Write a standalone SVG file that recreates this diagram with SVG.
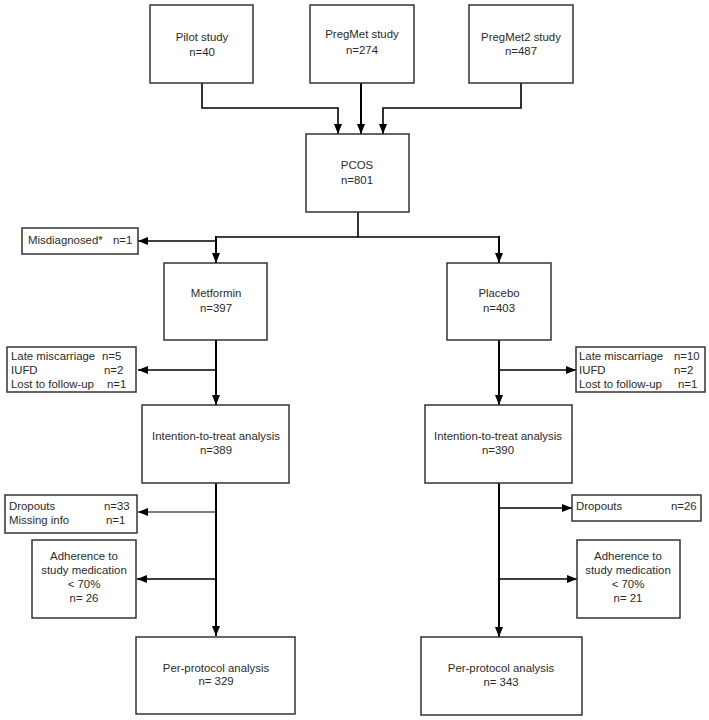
<svg xmlns="http://www.w3.org/2000/svg" width="709" height="720" viewBox="0 0 709 720">
<defs>
<marker id="ah" viewBox="0 0 10 8" refX="10" refY="4" markerWidth="10" markerHeight="8" markerUnits="userSpaceOnUse" orient="auto">
<path d="M0,0 L10,4 L0,8 z" fill="#000"/>
</marker>
<style>
.box{fill:#fff;stroke:#333;stroke-width:1.5}
text{font-family:"Liberation Sans",Arial,sans-serif;font-size:11.4px;fill:#2a2a2a}
.c{text-anchor:middle}
.ln{fill:none;stroke:#000;stroke-width:1.6}
.lt{fill:none;stroke:#000;stroke-width:2}
.ar{marker-end:url(#ah)}
</style>
</defs>
<rect width="709" height="720" fill="#fff"/>
<g id="connectors">
<path class="ln ar" d="M202,83 V108 H338 V134"/>
<path class="lt ar" d="M361,83 V134"/>
<path class="ln ar" d="M521,83 V108 H383 V134"/>
<path class="ln" d="M358,212 V237 M216,237 H499"/>
<path class="lt ar" d="M216,236 V263"/>
<path class="lt ar" d="M499,236 V263"/>
<path class="ln ar" d="M216,241 H138"/>
<path class="lt ar" d="M216,340 V405"/>
<path class="ln ar" d="M216,370 H138"/>
<path class="lt ar" d="M499,340 V405"/>
<path class="ln ar" d="M499,370 H576"/>
<path class="lt ar" d="M216,483 V636"/>
<path class="ln ar" style="stroke-width:1.1" d="M216,512 H138"/>
<path class="ln ar" d="M216,579 H137"/>
<path class="lt ar" d="M499,483 V637"/>
<path class="ln ar" d="M499,508 H572"/>
<path class="ln ar" d="M499,579 H577"/>
</g>
<g id="pilot"><rect class="box" x="150" y="5" width="103" height="78"/><text class="c" x="202" y="41">Pilot study</text><text class="c" x="202" y="56">n=40</text></g>
<g id="pregmet"><rect class="box" x="310" y="5" width="104" height="78"/><text class="c" x="362" y="38">PregMet study</text><text class="c" x="362" y="54">n=274</text></g>
<g id="pregmet2"><rect class="box" x="469" y="5" width="104" height="78"/><text class="c" x="521" y="41">PregMet2 study</text><text class="c" x="521" y="55">n=487</text></g>
<g id="pcos"><rect class="box" x="306" y="134" width="103" height="78"/><text class="c" x="357" y="169">PCOS</text><text class="c" x="357" y="184">n=801</text></g>
<g id="misdiagnosed"><rect class="box" x="22" y="228" width="116" height="26"/><text x="28" y="244">Misdiagnosed*</text><text x="113" y="244">n=1</text></g>
<g id="metformin"><rect class="box" x="164" y="263" width="103" height="77"/><text class="c" x="216" y="297">Metformin</text><text class="c" x="216" y="312">n=397</text></g>
<g id="placebo"><rect class="box" x="447" y="263" width="104" height="77"/><text class="c" x="499" y="297">Placebo</text><text class="c" x="499" y="312">n=403</text></g>
<g id="excl-met"><rect class="box" x="7" y="347" width="129" height="45"/><text x="11" y="360">Late miscarriage</text><text x="102" y="360">n=5</text><text x="11" y="374">IUFD</text><text x="104" y="374">n=2</text><text x="11" y="388">Lost to follow-up</text><text x="107" y="388">n=1</text></g>
<g id="excl-pla"><rect class="box" x="576" y="347" width="129" height="45"/><text x="579" y="360">Late miscarriage</text><text x="674" y="360">n=10</text><text x="579" y="374">IUFD</text><text x="674" y="374">n=2</text><text x="579" y="388">Lost to follow-up</text><text x="678" y="388">n=1</text></g>
<g id="itt-met"><rect class="box" x="142" y="405" width="147" height="78"/><text class="c" x="216" y="440">Intention-to-treat analysis</text><text class="c" x="216" y="454">n=389</text></g>
<g id="itt-pla"><rect class="box" x="425" y="405" width="147" height="78"/><text class="c" x="498" y="440">Intention-to-treat analysis</text><text class="c" x="498" y="454">n=390</text></g>
<g id="drop-met"><rect class="box" x="5" y="495" width="132" height="38"/><text x="9" y="510">Dropouts</text><text x="104" y="510">n=33</text><text x="9" y="524">Missing info</text><text x="106" y="524">n=1</text></g>
<g id="drop-pla"><rect class="box" x="572" y="495" width="129" height="26"/><text x="576" y="510">Dropouts</text><text x="671" y="510">n=26</text></g>
<g id="adh-met"><rect class="box" x="32" y="540" width="104" height="78"/><text class="c" x="84" y="560">Adherence to</text><text class="c" x="84" y="574">study medication</text><text class="c" x="84" y="588">&lt; 70%</text><text class="c" x="84" y="602">n= 26</text></g>
<g id="adh-pla"><rect class="box" x="577" y="540" width="103" height="78"/><text class="c" x="628" y="560">Adherence to</text><text class="c" x="628" y="574">study medication</text><text class="c" x="628" y="588">&lt; 70%</text><text class="c" x="628" y="602">n= 21</text></g>
<g id="pp-met"><rect class="box" x="136" y="637" width="159" height="77"/><text class="c" x="216" y="672">Per-protocol analysis</text><text class="c" x="216" y="685">n= 329</text></g>
<g id="pp-pla"><rect class="box" x="421" y="637" width="161" height="78"/><text class="c" x="501" y="672">Per-protocol analysis</text><text class="c" x="501" y="686">n= 343</text></g>
</svg>
